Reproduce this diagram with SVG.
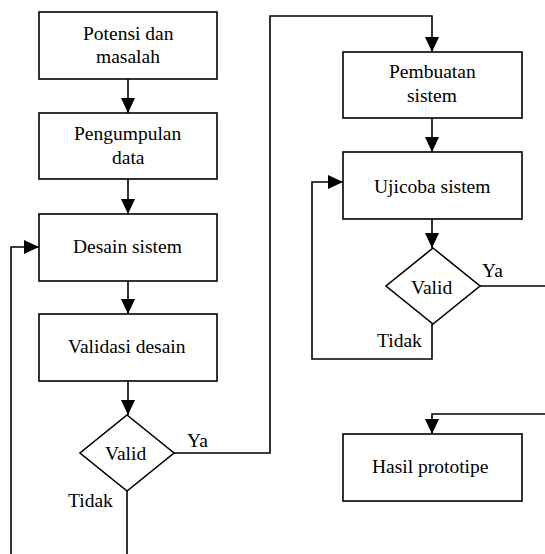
<svg xmlns="http://www.w3.org/2000/svg" width="545" height="554" viewBox="0 0 545 554">
<style>
.box{fill:#fff;stroke:#000;stroke-width:1.6}
.txt{font-family:"Liberation Serif","Times New Roman",serif;font-size:19.5px;fill:#000}
.c{fill:none;stroke:#000;stroke-width:1.6}
</style>
<defs>
<marker id="arr" markerWidth="16" markerHeight="16" refX="15" refY="8" orient="auto" markerUnits="userSpaceOnUse">
<path d="M0,1 L15,8 L0,15 z" fill="#000"/>
</marker>
</defs>
<rect width="545" height="554" fill="#fff"/>
<g id="connectors">
<path class="c" d="M128,79 V113" marker-end="url(#arr)"/>
<path class="c" d="M128,179 V214" marker-end="url(#arr)"/>
<path class="c" d="M128,281 V314" marker-end="url(#arr)"/>
<path class="c" d="M128,381 V415" marker-end="url(#arr)"/>
<path class="c" d="M174,453 H270 V16 H432 V52" marker-end="url(#arr)"/>
<path class="c" d="M127,491 V554"/>
<path class="c" d="M11,554 V247 H39" marker-end="url(#arr)"/>
<path class="c" d="M432,118 V152" marker-end="url(#arr)"/>
<path class="c" d="M432,219 V248" marker-end="url(#arr)"/>
<path class="c" d="M480,286 H545"/>
<path class="c" d="M432,324 V359 H312 V182 H343" marker-end="url(#arr)"/>
<path class="c" d="M545,414 H432 V434" marker-end="url(#arr)"/>
</g>
<g id="potensi">
<rect class="box" x="39" y="12" width="178" height="67"/>
<text class="txt" x="83" y="40">Potensi dan</text>
<text class="txt" x="96" y="63">masalah</text>
</g>
<g id="pengumpulan">
<rect class="box" x="39" y="113" width="178" height="66"/>
<text class="txt" x="74" y="140">Pengumpulan</text>
<text class="txt" x="112" y="164">data</text>
</g>
<g id="desain">
<rect class="box" x="39" y="214" width="178" height="67"/>
<text class="txt" x="73" y="253">Desain sistem</text>
</g>
<g id="validasi">
<rect class="box" x="39" y="314" width="178" height="67"/>
<text class="txt" x="68" y="353">Validasi desain</text>
</g>
<g id="valid1">
<path class="box" d="M127,415 L174,453 L127,491 L80,453 Z"/>
<text class="txt" x="105" y="460">Valid</text>
<text class="txt" x="187" y="447">Ya</text>
<text class="txt" x="68" y="507">Tidak</text>
</g>
<g id="pembuatan">
<rect class="box" x="343" y="52" width="179" height="66"/>
<text class="txt" x="389" y="78">Pembuatan</text>
<text class="txt" x="407" y="102">sistem</text>
</g>
<g id="ujicoba">
<rect class="box" x="343" y="152" width="179" height="67"/>
<text class="txt" x="374" y="193">Ujicoba sistem</text>
</g>
<g id="valid2">
<path class="box" d="M433,248 L480,286 L433,324 L386,286 Z"/>
<text class="txt" x="411" y="294">Valid</text>
<text class="txt" x="482" y="277">Ya</text>
<text class="txt" x="377" y="347">Tidak</text>
</g>
<g id="hasil">
<rect class="box" x="343" y="434" width="179" height="67"/>
<text class="txt" x="372" y="473">Hasil prototipe</text>
</g>
</svg>
